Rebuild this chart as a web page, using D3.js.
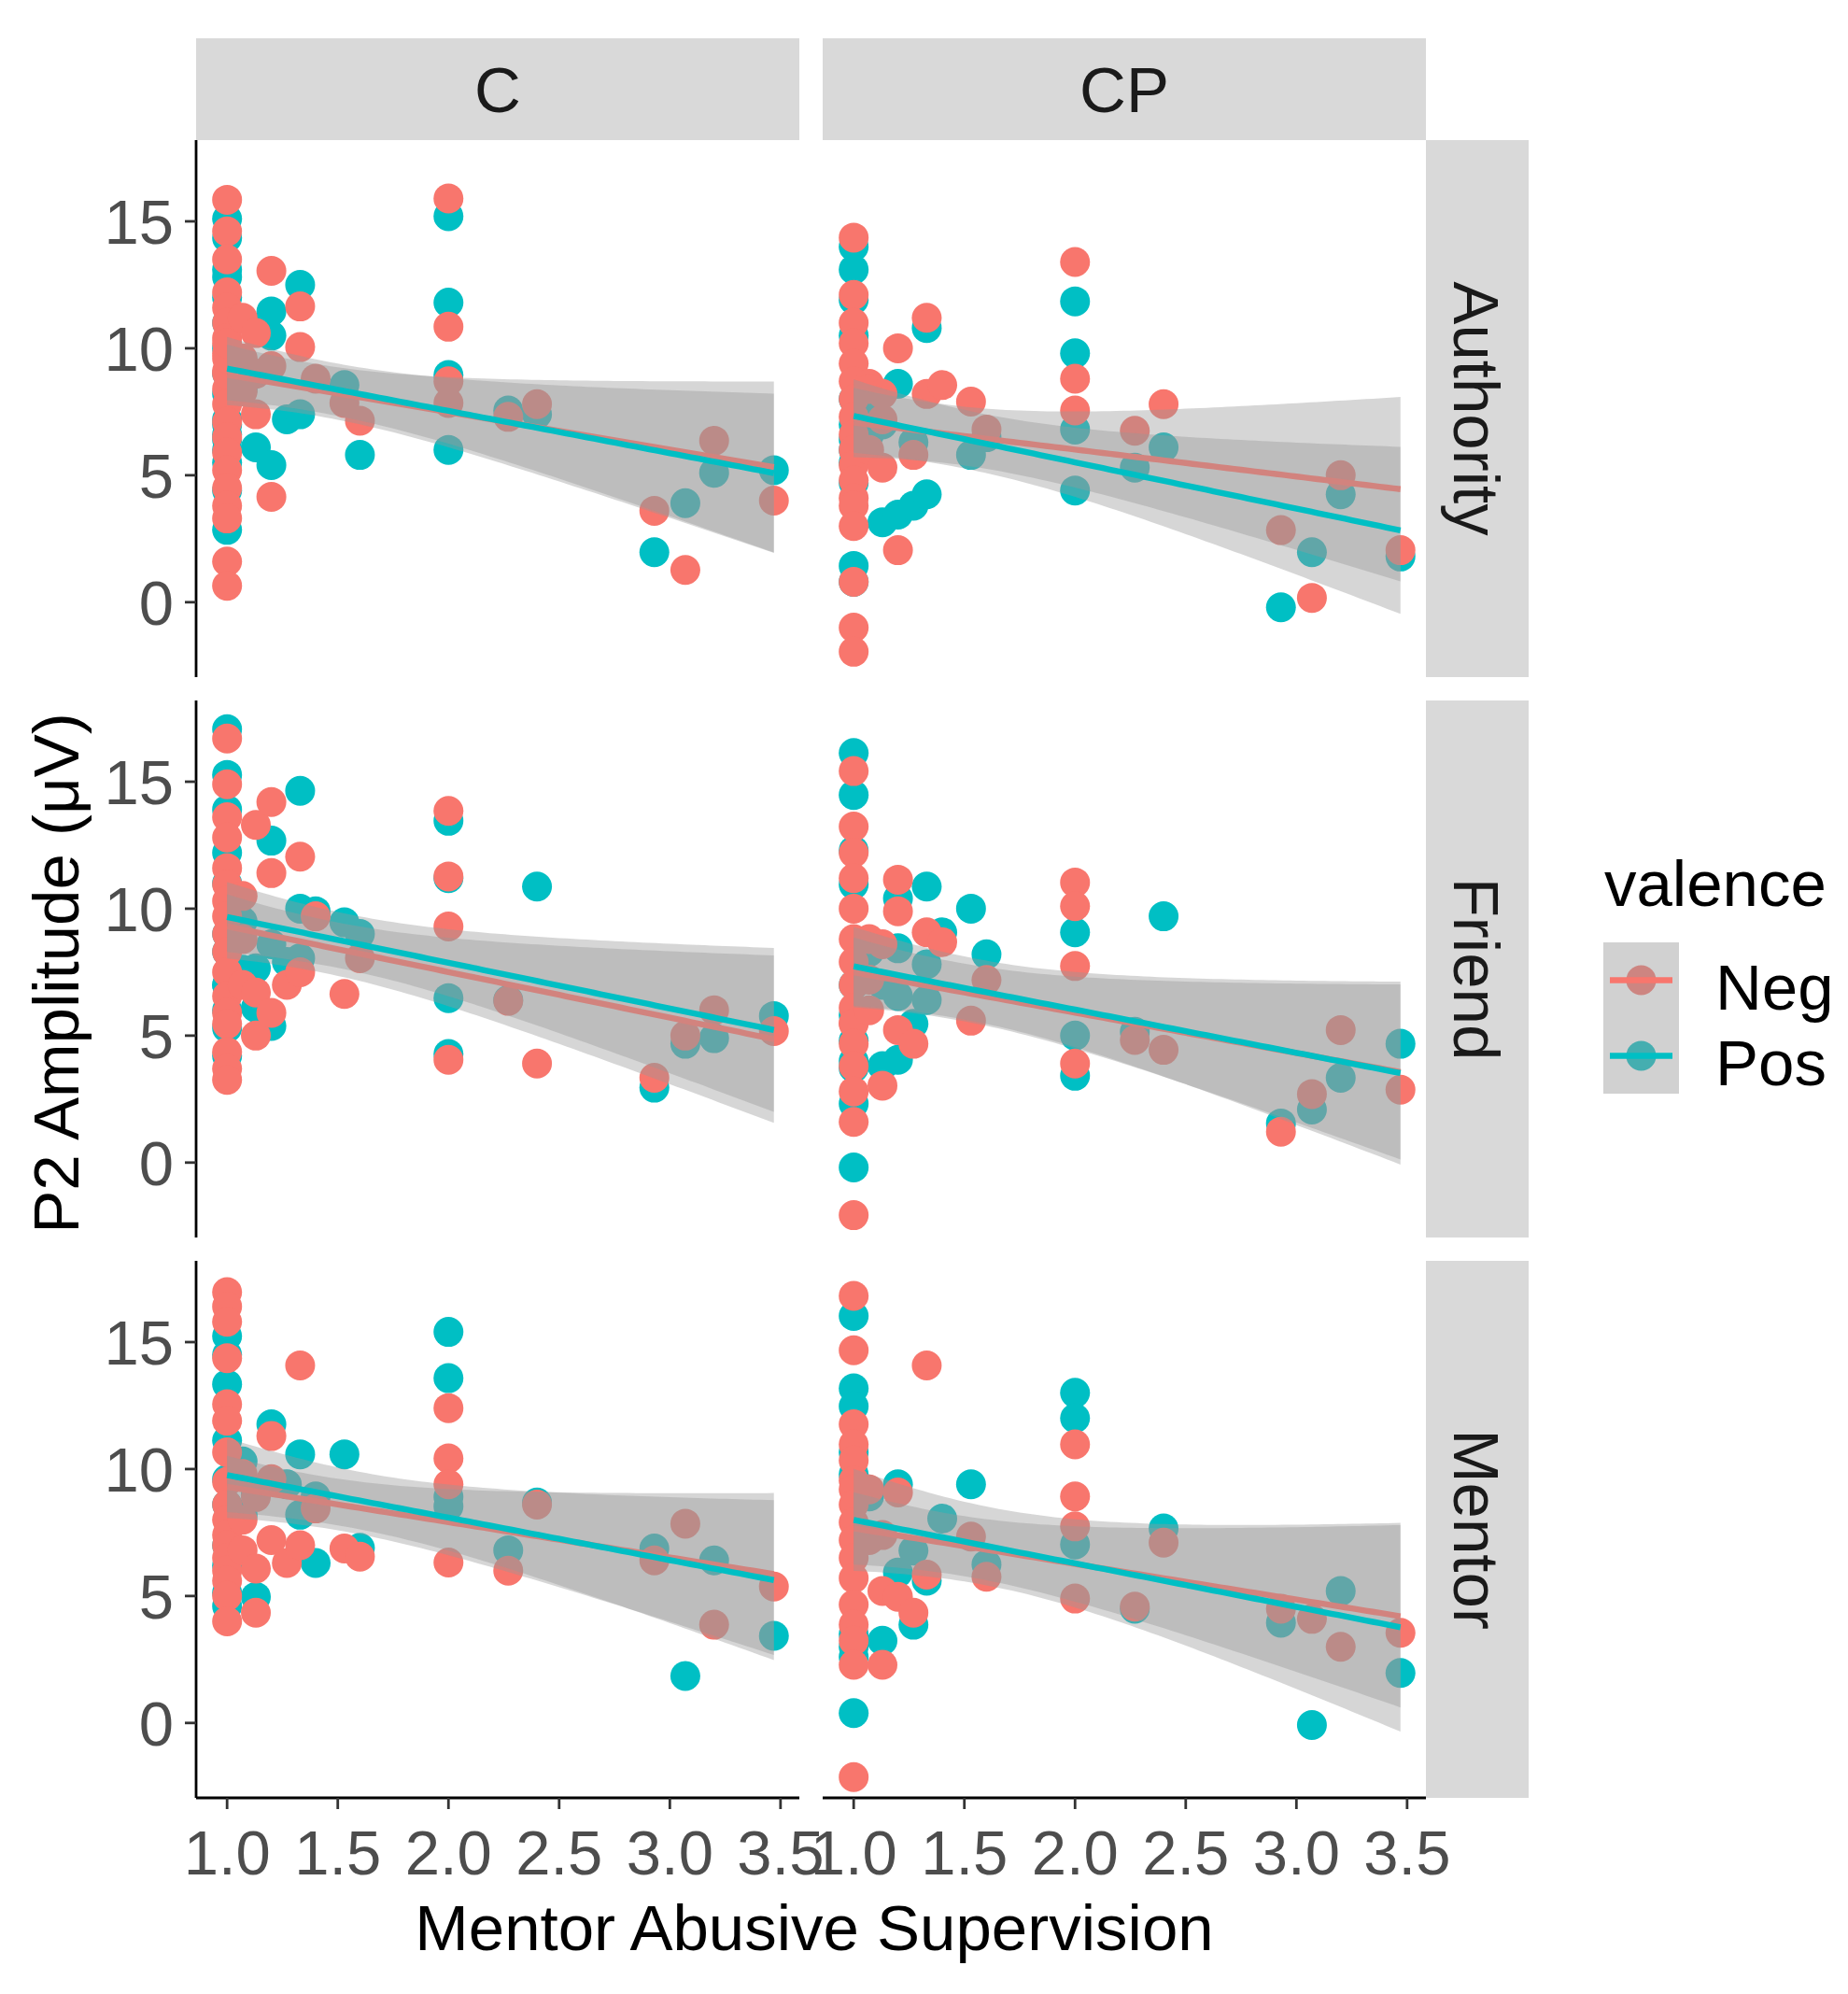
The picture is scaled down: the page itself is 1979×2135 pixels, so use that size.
<!DOCTYPE html>
<html>
<head>
<meta charset="utf-8">
<script src="https://cdn.jsdelivr.net/npm/d3@7"></script>
<style>
  body { margin: 0; background: #fff; }
  text { font-family: "Liberation Sans", Arial, sans-serif; }
</style>
</head>
<body>
<svg id="chart" width="1979" height="2135"></svg>
<script>
// facets and groups
var colNames = ["C", "CP"];
var rowNames = ["Authority", "Friend", "Mentor"];
var valences = ["Neg", "Pos"];
var valenceColors = ["#F8766D", "#00BFC4"];
var xTicks = [1.0, 1.5, 2.0, 2.5, 3.0, 3.5];
var yTicks = [0, 5, 10, 15];

// [mentor abusive supervision, P2 amplitude]
var cAuthNeg = [[1,15.85],[1,14.6],[1,13.5],[1,12.2],[1,11.6],[1,11.0],[1,10.4],[1,9.8],[1,9.1],[1,8.4],[1,7.8],[1,7.1],[1,6.5],[1,5.9],[1,5.2],[1,4.5],[1,3.8],[1,3.3],[1,1.6],[1,0.65],
  [1,9.0],[1,9.6],[1,10.2],
  [1.07,11.2],[1.07,9.6],[1.07,8.3],[1.13,10.6],[1.13,9.0],[1.13,7.4],[1.2,13.05],[1.2,9.3],[1.2,4.15],[1.33,11.65],[1.33,10.05],[1.4,8.8],[1.53,7.85],[1.6,7.15],
  [2,15.9],[2,10.85],[2,8.7],[2,7.85],[2.27,7.3],[2.4,7.8],[2.93,3.6],[3.07,1.27],[3.2,6.36],[3.47,4.0]];
var cAuthPos = [[1,15.1],[1,14.35],[1,13.1],[1,12.8],[1,12.0],[1,11.0],[1,10.0],[1,9.0],[1,8.2],[1,7.2],[1,6.4],[1,5.5],[1,4.4],[1,2.85],
  [1,6.0],[1,6.6],[1,7.0],
  [1.07,9.5],[1.07,8.4],[1.13,6.1],[1.13,10.8],[1.2,11.45],[1.2,10.5],[1.2,5.4],[1.27,7.2],[1.33,12.5],[1.33,7.4],[1.53,8.55],[1.6,5.8],
  [2,15.2],[2,11.8],[2,8.95],[2,6.0],[2.27,7.55],[2.4,7.4],[2.93,1.97],[3.07,3.9],[3.2,5.1],[3.47,5.2]];
var cFriendNeg = [[1,16.7],[1,14.9],[1,13.6],[1,12.8],[1,11.6],[1,10.95],[1,10.3],[1,9.7],[1,9.0],[1,8.3],[1,7.5],[1,6.56],[1,5.9],[1,5.46],[1,4.36],[1,3.7],[1,3.26],
  [1.07,10.5],[1.07,8.8],[1.07,7.0],[1.13,13.3],[1.13,6.7],[1.13,5.0],[1.2,14.2],[1.2,11.4],[1.2,5.9],[1.27,7.0],[1.33,12.05],[1.33,7.5],[1.4,9.7],[1.53,6.64],[1.6,8.05],
  [2,13.85],[2,11.27],[2,9.3],[2,4.05],[2.27,6.37],[2.4,3.9],[2.93,3.34],[3.07,5.0],[3.2,6.0],[3.47,5.18]];
var cFriendPos = [[1,17.07],[1,15.27],[1,13.9],[1,12.2],[1,11.0],[1,9.0],[1,8.3],[1,7.0],[1,7.0],[1,6.0],[1,5.3],[1,4.2],
  [1.07,9.5],[1.07,7.6],[1.13,7.65],[1.13,6.1],[1.2,12.68],[1.2,8.6],[1.2,5.38],[1.27,7.9],[1.33,14.64],[1.33,10.0],[1.33,8.05],[1.4,9.9],[1.53,9.46],[1.6,9.0],
  [2,13.46],[2,11.2],[2,6.48],[2,4.28],[2.27,6.4],[2.4,10.87],[2.93,2.95],[3.07,4.68],[3.2,4.9],[3.47,5.77]];
var cMentorNeg = [[1,16.97],[1,16.4],[1,15.8],[1,14.37],[1,12.55],[1,11.9],[1,10.66],[1,9.5],[1,8.6],[1,8.0],[1,7.4],[1,7.0],[1,6.5],[1,6.0],[1,5.6],[1,5.0],[1,4.0],
  [1.07,9.8],[1.07,8.0],[1.07,6.8],[1.13,6.08],[1.13,4.34],[1.13,8.9],[1.2,11.3],[1.2,7.2],[1.2,9.6],[1.27,6.3],[1.33,14.08],[1.33,7.0],[1.4,8.45],[1.53,6.87],[1.6,6.55],
  [2,12.4],[2,10.42],[2,9.4],[2,6.32],[2.27,6.0],[2.4,8.6],[2.93,6.4],[3.07,7.85],[3.2,3.87],[3.47,5.37]];
var cMentorPos = [[1,15.24],[1,14.5],[1,13.34],[1,11.13],[1,9.6],[1,8.6],[1,7.0],[1,6.2],[1,5.13],[1,4.6],
  [1.07,10.3],[1.07,8.2],[1.13,4.97],[1.13,9.0],[1.2,11.76],[1.27,9.4],[1.33,10.58],[1.33,8.2],[1.4,8.92],[1.4,6.3],[1.53,10.58],[1.6,6.9],
  [2,15.4],[2,13.58],[2,8.53],[2,8.9],[2.27,6.8],[2.4,8.68],[2.93,6.87],[3.07,1.85],[3.2,6.4],[3.47,3.43]];
var cpAuthNeg = [[1,14.36],[1,12.1],[1,11.0],[1,10.2],[1,9.4],[1,8.7],[1,8.0],[1,7.3],[1,6.6],[1,6.0],[1,5.4],[1,4.8],[1,4.1],[1,3.8],[1,3.0],[1,0.8],[1,-1.0],[1,-1.95],
  [1.07,8.6],[1.07,8.4],[1.07,6.0],[1.13,8.2],[1.13,5.3],[1.13,7.2],[1.2,10.0],[1.2,2.05],[1.27,5.8],[1.33,11.2],[1.33,8.2],[1.4,8.55],[1.53,7.9],[1.6,6.8],
  [2,13.4],[2,8.8],[2,7.55],[2.27,6.75],[2.4,7.8],[2.93,2.84],[3.07,0.17],[3.2,5.0],[3.47,2.05]];
var cpAuthPos = [[1,14.0],[1,13.1],[1,11.9],[1,10.5],[1,8.0],[1,7.0],[1,6.0],[1,6.4],[1,5.5],[1,4.7],[1,1.43],[1,0.8],
  [1.07,6.6],[1.07,8.0],[1.13,3.15],[1.13,7.0],[1.2,3.45],[1.2,8.6],[1.27,3.8],[1.27,6.3],[1.33,4.25],[1.33,10.8],[1.53,5.8],[1.6,6.5],
  [2,11.85],[2,9.8],[2,6.8],[2,4.4],[2.27,5.3],[2.4,6.1],[2.93,-0.2],[3.07,1.97],[3.2,4.25],[3.47,1.8]];
var cpFriendNeg = [[1,15.42],[1,13.23],[1,12.2],[1,11.2],[1,10.0],[1,8.8],[1,7.9],[1,7.0],[1,6.1],[1,5.5],[1,5.46],[1,4.68],[1,3.8],[1,2.8],[1,1.6],[1,-2.07],
  [1.07,8.8],[1.07,7.2],[1.07,6.0],[1.13,8.6],[1.13,3.03],[1.2,11.14],[1.2,9.9],[1.2,5.22],[1.27,4.68],[1.33,9.07],[1.4,8.68],[1.53,5.59],[1.6,7.19],
  [2,11.03],[2,10.1],[2,7.74],[2,3.9],[2.27,4.83],[2.4,4.44],[2.93,1.22],[3.07,2.7],[3.2,5.22],[3.47,2.87]];
var cpFriendPos = [[1,16.13],[1,14.48],[1,12.29],[1,10.95],[1,7.0],[1,5.8],[1,4.8],[1,4.0],[1,3.73],[1,2.32],[1,-0.19],
  [1.07,8.3],[1.13,3.8],[1.13,7.0],[1.2,10.4],[1.2,8.44],[1.2,6.56],[1.2,4.05],[1.27,5.46],[1.33,10.87],[1.33,7.81],[1.33,6.4],[1.4,9.07],[1.53,10.0],[1.6,8.2],
  [2,9.07],[2,5.0],[2,3.42],[2.27,5.15],[2.4,9.7],[2.93,1.54],[3.07,2.09],[3.2,3.34],[3.47,4.68]];
var cpMentorNeg = [[1,16.82],[1,14.68],[1,11.76],[1,10.97],[1,10.34],[1,9.55],[1,9.2],[1,8.6],[1,7.9],[1,7.2],[1,6.5],[1,5.7],[1,4.66],[1,3.87],[1,3.24],[1,2.29],[1,-2.13],
  [1.07,9.2],[1.07,7.2],[1.13,2.29],[1.13,7.4],[1.13,5.2],[1.2,9.08],[1.2,4.97],[1.27,4.34],[1.33,14.08],[1.33,5.84],[1.53,7.34],[1.6,5.76],
  [2,10.97],[2,8.92],[2,7.74],[2,4.9],[2.27,4.58],[2.4,7.1],[2.93,4.5],[3.07,4.1],[3.2,3.0],[3.47,3.55]];
var cpMentorPos = [[1,16.03],[1,13.18],[1,12.47],[1,10.66],[1,9.79],[1,3.5],[1,3.0],[1,2.6],[1,0.39],
  [1.07,8.92],[1.13,3.24],[1.2,9.4],[1.2,5.92],[1.27,6.79],[1.27,3.87],[1.33,5.6],[1.4,8.05],[1.53,9.4],[1.6,6.24],
  [2,13.0],[2,12.0],[2,7.03],[2.27,4.5],[2.4,7.66],[2.93,3.95],[3.07,-0.08],[3.2,5.2],[3.47,1.97]];

var panelData = {
    C: { Authority: [cAuthNeg, cAuthPos], Friend: [cFriendNeg, cFriendPos], Mentor: [cMentorNeg, cMentorPos] },
    CP: { Authority: [cpAuthNeg, cpAuthPos], Friend: [cpFriendNeg, cpFriendPos], Mentor: [cpMentorNeg, cpMentorPos] }
};

var colLeft = [210, 881];
var rowTop = [150, 750, 1350];
var panelW = 646, panelH = 575;
var stripSize = 110;
var ptR = 16, lineW = 6.4, axisW = 2.8;

var x = d3.scaleLinear().domain([0.86, 3.585]).range([0, panelW]);
var y = d3.scaleLinear().domain([-2.95, 18.2]).range([panelH, 0]);

// t quantile (0.975) approximation
function tQuant(df) {
    var z = 1.959964;
    return z + (z * z * z + z) / (4 * df) + (5 * Math.pow(z, 5) + 16 * z * z * z + 3 * z) / (96 * df * df);
}

// lm fit + 95% band, same as geom_smooth(method = "lm")
function smoothLm(pts) {
    var n = pts.length;
    var mx = d3.mean(pts, function(d) { return d[0]; });
    var my = d3.mean(pts, function(d) { return d[1]; });
    var sxx = d3.sum(pts, function(d) { return (d[0] - mx) * (d[0] - mx); });
    var sxy = d3.sum(pts, function(d) { return (d[0] - mx) * (d[1] - my); });
    var b = sxy / sxx, a = my - b * mx;
    var rss = d3.sum(pts, function(d) { var r = d[1] - a - b * d[0]; return r * r; });
    var s = Math.sqrt(rss / (n - 2));
    var t = tQuant(n - 2);
    var ext = d3.extent(pts, function(d) { return d[0]; });
    return d3.range(80).map(function(i) {
        var xv = ext[0] + (ext[1] - ext[0]) * i / 79;
        var f = a + b * xv;
        var se = s * Math.sqrt(1 / n + (xv - mx) * (xv - mx) / sxx);
        return { x: xv, y: f, lo: f - t * se, hi: f + t * se };
    });
}

var svg = d3.select("#chart");
svg.append("rect").attr("width", 1979).attr("height", 2135).attr("fill", "#fff");

var area = d3.area().x(function(d) { return x(d.x); }).y0(function(d) { return y(d.lo); }).y1(function(d) { return y(d.hi); });
var line = d3.line().x(function(d) { return x(d.x); }).y(function(d) { return y(d.y); });

for (var r = 0; r < rowNames.length; r++) {
    for (var c = 0; c < colNames.length; c++) {
        var g = svg.append("g").attr("transform", "translate(" + colLeft[c] + "," + rowTop[r] + ")");
        var groups = panelData[colNames[c]][rowNames[r]];
        // points: Pos first, Neg on top
        for (var v = groups.length - 1; v >= 0; v--) {
            g.append("g").selectAll("circle").data(groups[v]).enter().append("circle")
                .attr("cx", function(d) { return x(d[0]); })
                .attr("cy", function(d) { return y(d[1]); })
                .attr("r", ptR)
                .attr("fill", valenceColors[v]);
        }
        for (var v = 0; v < groups.length; v++) {
            var fit = smoothLm(groups[v]);
            g.append("path").attr("d", area(fit)).attr("fill", "#999999").attr("fill-opacity", 0.4);
            g.append("path").attr("d", line(fit)).attr("fill", "none").attr("stroke", valenceColors[v]).attr("stroke-width", lineW);
        }
        if (c == 0) {
            g.append("line").attr("x1", 0).attr("x2", 0).attr("y1", 0).attr("y2", panelH).attr("stroke", "#000").attr("stroke-width", axisW);
            var yt = g.append("g").selectAll("g").data(yTicks).enter().append("g")
                .attr("transform", function(d) { return "translate(0," + y(d) + ")"; });
            yt.append("line").attr("x1", -12).attr("x2", 0).attr("stroke", "#333").attr("stroke-width", axisW);
            yt.append("text").attr("x", -24).attr("dy", "0.36em").attr("text-anchor", "end")
                .attr("font-size", 67).attr("fill", "#4D4D4D").text(function(d) { return d; });
        }
        if (r == rowNames.length - 1) {
            g.append("line").attr("x1", 0).attr("x2", panelW).attr("y1", panelH).attr("y2", panelH).attr("stroke", "#000").attr("stroke-width", axisW);
            var xt = g.append("g").selectAll("g").data(xTicks).enter().append("g")
                .attr("transform", function(d) { return "translate(" + x(d) + "," + panelH + ")"; });
            xt.append("line").attr("y1", 0).attr("y2", 12).attr("stroke", "#333").attr("stroke-width", axisW);
            xt.append("text").attr("y", 82).attr("text-anchor", "middle")
                .attr("font-size", 67).attr("fill", "#4D4D4D").text(function(d) { return d.toFixed(1); });
        }
    }
}

// top strips
colNames.forEach(function(name, c) {
    svg.append("rect").attr("x", colLeft[c]).attr("y", rowTop[0] - stripSize + 1).attr("width", panelW).attr("height", stripSize - 1).attr("fill", "#D9D9D9");
    svg.append("text").attr("x", colLeft[c] + panelW / 2).attr("y", rowTop[0] - stripSize / 2).attr("dy", "0.36em")
        .attr("text-anchor", "middle").attr("font-size", 69).attr("fill", "#1A1A1A").text(name);
});

// right strips
var stripX = colLeft[1] + panelW;
rowNames.forEach(function(name, r) {
    svg.append("rect").attr("x", stripX).attr("y", rowTop[r]).attr("width", stripSize).attr("height", panelH).attr("fill", "#D9D9D9");
    svg.append("text").attr("transform", "translate(" + (stripX + stripSize / 2) + "," + (rowTop[r] + panelH / 2) + ") rotate(90)")
        .attr("dy", "0.36em").attr("text-anchor", "middle").attr("font-size", 69).attr("fill", "#1A1A1A").text(name);
});

// axis titles
svg.append("text").attr("x", 872).attr("y", 2088).attr("text-anchor", "middle").attr("font-size", 69).attr("fill", "#000")
    .text("Mentor Abusive Supervision");
svg.append("text").attr("transform", "translate(84,1042) rotate(-90)").attr("text-anchor", "middle").attr("font-size", 69).attr("fill", "#000")
    .text("P2 Amplitude (\u03BCV)");

// legend
var legX = 1717, legY = 1009, keySize = 81;
svg.append("text").attr("x", legX + 1).attr("y", 970).attr("font-size", 69).attr("fill", "#000").text("valence");
valences.forEach(function(name, i) {
    var ky = legY + i * keySize;
    var k = svg.append("g").attr("transform", "translate(" + legX + "," + ky + ")");
    k.append("circle").attr("cx", keySize / 2).attr("cy", keySize / 2).attr("r", ptR).attr("fill", valenceColors[i]);
    k.append("rect").attr("width", keySize).attr("height", keySize).attr("fill", "#999999").attr("fill-opacity", 0.45);
    k.append("line").attr("x1", 7).attr("x2", keySize - 7).attr("y1", keySize / 2).attr("y2", keySize / 2)
        .attr("stroke", valenceColors[i]).attr("stroke-width", lineW);
    svg.append("text").attr("x", 1837).attr("y", ky + keySize / 2 + 31).attr("font-size", 69).attr("fill", "#000").text(name);
});
</script>
</body>
</html>
